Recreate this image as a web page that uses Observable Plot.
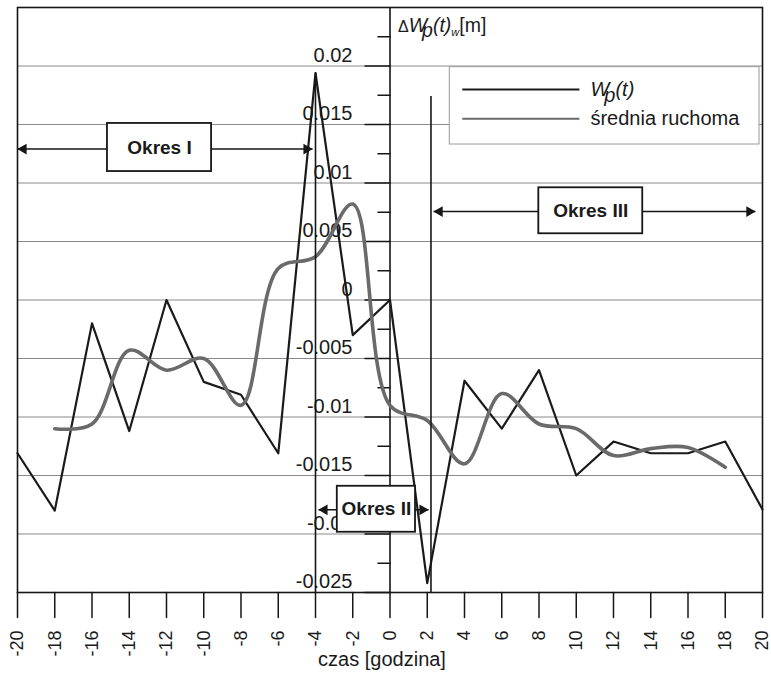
<!DOCTYPE html>
<html>
<head>
<meta charset="utf-8">
<script src="https://cdn.jsdelivr.net/npm/d3@7"></script>
<script src="https://cdn.jsdelivr.net/npm/@observablehq/plot@0.6"></script>
<style>
  body { margin: 0; background: #fff; }
  svg { font-family: "Liberation Sans", Arial, sans-serif; }
</style>
</head>
<body>
<div id="chart"></div>
<script>
// ---- data ----
const hours = [-20, -18, -16, -14, -12, -10, -8, -6, -4, -2, 0, 2, 4, 6, 8, 10, 12, 14, 16, 18, 20];
const wp = [-0.0131, -0.0180, -0.0020, -0.0112, 0.0000, -0.0070, -0.0081, -0.0131, 0.0194, -0.0030, 0.0000,
            -0.0242, -0.0069, -0.0110, -0.0060, -0.0150, -0.0121, -0.0131, -0.0131, -0.0121, -0.0179];
const maHours = [-18, -16, -14, -12, -10, -8, -6, -4, -2, 0, 2, 4, 6, 8, 10, 12, 14, 16, 18];
const ma = [-0.0110, -0.0106, -0.0043, -0.0060, -0.0050, -0.0090, 0.0027, 0.0037, 0.0082, -0.0090,
            -0.0103, -0.0140, -0.0080, -0.0106, -0.0110, -0.0133, -0.0127, -0.0126, -0.0143];

const xTicks = [-20, -18, -16, -14, -12, -10, -8, -6, -4, -2, 0, 2, 4, 6, 8, 10, 12, 14, 16, 18, 20];
const xTickLabels = ["-20", "-18", "-16", "-14", "-12", "-10", "-8", "-6", "-4", "-2", "0", "2", "4", "6", "8", "10", "12", "14", "16", "18", "20"];
const yTickValues = [0.02, 0.015, 0.01, 0.005, 0, -0.005, -0.01, -0.015, -0.02, -0.025];
const yTickLabels = ["0.02", "0.015", "0.01", "0.005", "0", "-0.005", "-0.01", "-0.015", "-0.02", "-0.025"];
const yGrid = [0.02, 0.015, 0.01, 0.005, 0, -0.005, -0.01, -0.015, -0.02];
const yMinor = [0.0225, 0.0175, 0.0125, 0.0075, 0.0025, -0.0025, -0.0075, -0.0125, -0.0175, -0.0225];

const seriesNames = ["Wp(t)", "średnia ruchoma"];
const periodNames = ["Okres I", "Okres II", "Okres III"];
// period boundaries (hour) and top of the boundary line
const boundX = [-4, 2.2];
const boundTop = [0.0194, 0.0174];
// period annotation: arrow ends (hours), arrow level, box extent
const perLeft = [-20, -3.84, 2.34];
const perRight = [-4.16, 2.07, 19.62];
const perY = [0.0129, -0.01793, 0.00756];
const boxX1 = [-15.17, -2.83, 7.99];
const boxX2 = [-9.58, 1.37, 13.57];
const boxY1 = [0.01509, -0.01592, 0.00959];
const boxY2 = [0.01098, -0.01985, 0.00566];
// legend placement (in chart units)
const legBox = {x1: 3.21, x2: 19.84, y1: 0.0199, y2: 0.01329};
const legLineX = [3.88, 10.17];
const legRowY = [0.01799, 0.01549];

const xTitle = "czas [godzina]";
const yTitle = "ΔWp(t)w[m]";

// ---- tables ----
const wpData = hours.map((h, i) => ({h, v: wp[i]}));
const maData = maHours.map((h, i) => ({h, v: ma[i]}));
const periods = periodNames.map((name, i) => ({
  name, left: perLeft[i], right: perRight[i], y: perY[i],
  x1: boxX1[i], x2: boxX2[i], y1: boxY1[i], y2: boxY2[i]
}));
const bounds = boundX.map((x, i) => ({x, top: boundTop[i]}));
const legend = seriesNames.map((name, i) => ({name, y: legRowY[i], color: i === 0 ? "#1a1a1a" : "#6a6a6a", w: 2.2}));

const lineShape = {draw(ctx, l) { ctx.moveTo(0, 0); ctx.lineTo(0, -l); }};
const font = "Liberation Sans, Arial, sans-serif";

const plot = Plot.plot({
  width: 771,
  height: 683,
  marginTop: 7,
  marginRight: 9,
  marginBottom: 91,
  marginLeft: 17,
  x: {domain: [-20, 20], axis: null},
  y: {domain: [-0.025, 0.025], axis: null},
  style: {fontFamily: font, background: "white", overflow: "visible"},
  marks: [
    Plot.ruleY(yGrid, {stroke: "#8a8a8a", strokeWidth: 1}),
    Plot.frame({stroke: "#161616", strokeWidth: 1.6}),
    // x ticks and labels
    Plot.vector(xTicks, {x: d => d, y: -0.025, length: 25, rotate: 180, anchor: "start", shape: lineShape, stroke: "#161616", strokeWidth: 1.5, fill: "none"}),
    Plot.text(xTicks, {x: d => d, frameAnchor: "bottom", text: (d, i) => xTickLabels[i], rotate: -90, textAnchor: "end", lineAnchor: "middle", dy: 38, fontSize: 18, fill: "#1a1a1a"}),
    // y axis at x = 0
    Plot.ruleX([0], {stroke: "#161616", strokeWidth: 1.6}),
    Plot.vector(yTickValues, {x: 0, y: d => d, length: 25, rotate: -90, anchor: "start", shape: lineShape, stroke: "#161616", strokeWidth: 1.5, fill: "none"}),
    Plot.vector(yMinor, {x: 0, y: d => d, length: 12, rotate: -90, anchor: "start", shape: lineShape, stroke: "#161616", strokeWidth: 1.5, fill: "none"}),
    Plot.text(yTickValues, {x: 0, y: d => d, text: (d, i) => yTickLabels[i], textAnchor: "end", lineAnchor: "middle", dx: -37.5, dy: -10.5, fontSize: 20, fill: "#1a1a1a"}),
    // series
    Plot.line(wpData, {x: "h", y: "v", stroke: "#1a1a1a", strokeWidth: 2.2}),
    Plot.line(maData, {x: "h", y: "v", stroke: "#6a6a6a", strokeWidth: 3.6, curve: "catmull-rom"}),
    // period boundaries
    Plot.ruleX(bounds, {x: "x", y1: -0.025, y2: "top", stroke: "#161616", strokeWidth: 1.6}),
    // period annotations
    Plot.link(periods, {x1: "left", x2: "right", y1: "y", y2: "y", stroke: "#161616", strokeWidth: 1.5}),
    Plot.dot(periods, {x: "left", y: "y", symbol: "triangle", r: 4, rotate: -90, fill: "#161616", stroke: "none", dx: 6}),
    Plot.dot(periods, {x: "right", y: "y", symbol: "triangle", r: 4, rotate: 90, fill: "#161616", stroke: "none", dx: -6}),
    Plot.rect(periods, {x1: "x1", x2: "x2", y1: "y1", y2: "y2", fill: "white", stroke: "#161616", strokeWidth: 1.8}),
    Plot.text(periods, {x: d => (d.x1 + d.x2) / 2, y: d => (d.y1 + d.y2) / 2, text: "name", fontWeight: "bold", fontSize: 19, fill: "#1a1a1a", lineAnchor: "middle"}),
    // legend
    Plot.rect([legBox], {x1: "x1", x2: "x2", y1: "y1", y2: "y2", fill: "white", stroke: "#9a9a9a", strokeWidth: 1}),
    Plot.link(legend, {x1: legLineX[0], x2: legLineX[1], y1: "y", y2: "y", stroke: "color", strokeWidth: "w"}),
    Plot.text(legend, {x: legLineX[1], y: "y", text: "name", textAnchor: "start", lineAnchor: "middle", dx: 11, fontSize: 20, fill: "#1a1a1a"}),
    // titles
    Plot.text([yTitle], {x: 0, frameAnchor: "top", text: d => d, textAnchor: "start", lineAnchor: "middle", dx: 8, dy: 18, fontSize: 19.5, fill: "#1a1a1a"}),
    Plot.text([xTitle], {x: 0, frameAnchor: "bottom", text: d => d, textAnchor: "middle", lineAnchor: "middle", dx: -8, dy: 67, fontSize: 20, fill: "#1a1a1a"})
  ]
});

document.getElementById("chart").append(plot);

// rich text (italics / subscripts) for the series name and y title
const NS = "http://www.w3.org/2000/svg";
function rich(el, parts) {
  el.textContent = "";
  for (const p of parts) {
    const t = document.createElementNS(NS, "tspan");
    t.textContent = p.t;
    if (p.italic) t.setAttribute("font-style", "italic");
    if (p.size) t.setAttribute("font-size", p.size);
    if (p.dx) t.setAttribute("dx", p.dx);
    if (p.dy) t.setAttribute("dy", p.dy);
    el.appendChild(t);
  }
}
d3.select(plot).selectAll("text").each(function () {
  if (this.textContent === seriesNames[0]) {
    rich(this, [
      {t: "W", italic: true},
      {t: "p", italic: true, dx: -5, dy: 6},
      {t: "(t)", italic: true, dy: -6}
    ]);
  } else if (this.textContent === yTitle) {
    rich(this, [
      {t: "Δ", size: 16},
      {t: "W", italic: true},
      {t: "p", italic: true, dx: -5, dy: 5},
      {t: "(t)", italic: true, dy: -5},
      {t: "w", italic: true, size: 11, dy: 4},
      {t: "[m]", dy: -4}
    ]);
  }
});
</script>
</body>
</html>
